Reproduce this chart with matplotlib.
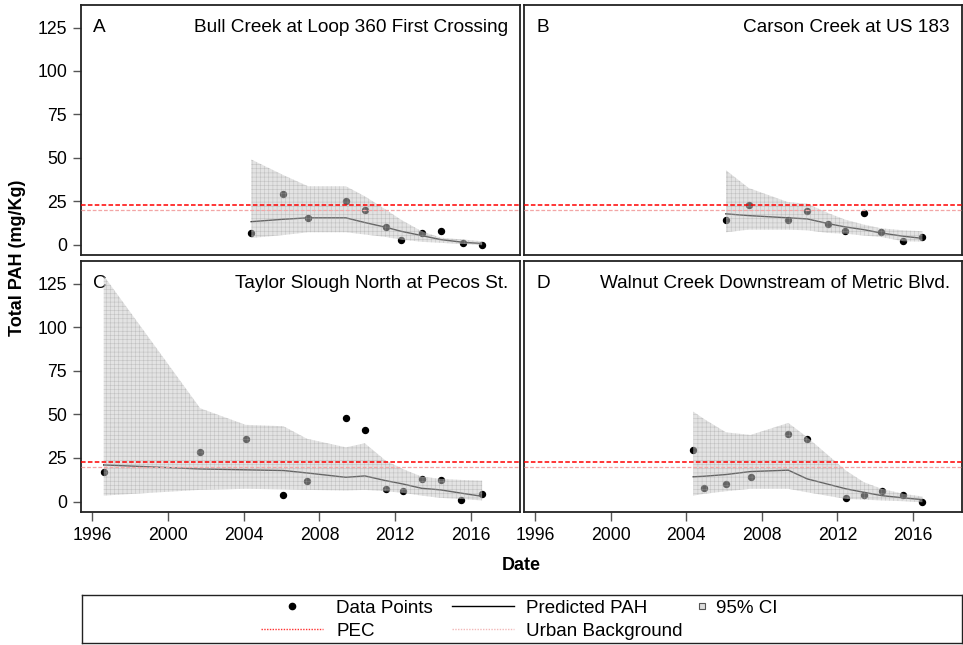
import matplotlib
matplotlib.use("Agg")
import matplotlib.pyplot as plt
from matplotlib.lines import Line2D
from matplotlib.transforms import offset_copy

plt.rcParams['font.family'] = ['Liberation Sans', 'DejaVu Sans']
plt.rcParams['hatch.linewidth'] = 0.4

# ---------------- data ----------------
letters = ["A", "B", "C", "D"]
titles = ["Bull Creek at Loop 360 First Crossing",
          "Carson Creek at US 183",
          "Taylor Slough North at Pecos St.",
          "Walnut Creek Downstream of Metric Blvd."]

a_years = [2004.4, 2006.1, 2007.4, 2009.4, 2010.4, 2011.5, 2012.3, 2013.4, 2014.4, 2015.6, 2016.6]
a_obs   = [6.5, 29.2, 15.4, 25.2, 20.0, 10.0, 2.7, 6.5, 8.0, 1.0, 0.0]
a_pred  = [13.2, 14.6, 15.4, 15.4, 12.7, 10.0, 7.7, 5.2, 2.9, 1.3, 0.6]
a_upper = [49.0, 40.0, 33.6, 33.6, 27.8, 20.2, 14.4, 7.7, 4.0, 2.9, 1.9]
a_lower = [3.8, 5.5, 7.1, 7.1, 5.8, 4.4, 2.9, 1.6, 1.0, 0.4, -0.4]

b_years = [2006.1, 2007.3, 2009.4, 2010.4, 2011.5, 2012.4, 2013.4, 2014.3, 2015.5, 2016.5]
b_obs   = [14.0, 23.0, 14.0, 19.2, 11.7, 8.1, 18.4, 7.1, 1.9, 4.2]
b_pred  = [17.7, 16.7, 15.4, 14.8, 12.1, 10.2, 8.6, 6.7, 4.8, 3.6]
b_upper = [42.8, 32.6, 24.4, 23.6, 18.2, 14.4, 11.5, 9.4, 8.2, 7.7]
b_lower = [7.1, 8.6, 8.6, 8.2, 6.7, 6.3, 5.2, 4.4, 1.9, 1.7]

c_years = [1996.6, 2001.7, 2004.1, 2006.1, 2007.35, 2009.4, 2010.4, 2011.5, 2012.4, 2013.4, 2014.4, 2015.5, 2016.6]
c_obs   = [17.2, 28.3, 36.0, 3.6, 11.9, 47.8, 41.1, 7.3, 6.1, 13.2, 12.6, 0.6, 4.4]
c_pred  = [21.0, 18.7, 18.2, 17.8, 16.4, 13.9, 14.7, 12.0, 10.1, 7.6, 6.7, 4.8, 3.0]
c_upper = [129.6, 53.5, 44.0, 43.2, 36.0, 31.1, 33.4, 23.5, 18.7, 14.3, 13.0, 12.4, 12.0]
c_lower = [3.4, 6.7, 7.3, 7.0, 6.7, 6.3, 6.7, 5.9, 5.0, 3.4, 2.1, 1.5, 0.6]

d_years = [2004.37, 2004.93, 2006.1, 2007.4, 2009.4, 2010.4, 2012.45, 2013.4, 2014.35, 2015.5, 2016.5]
d_obs   = [29.8, 8.0, 10.3, 14.0, 38.8, 35.7, 2.1, 3.6, 5.9, 3.8, 0.0]
d_pred  = [14.2, 14.5, 15.5, 17.2, 18.0, 13.0, 7.3, 5.3, 3.4, 2.1, 1.1]
d_upper = [51.6, 47.4, 39.7, 38.2, 45.1, 36.9, 17.8, 11.1, 7.3, 4.4, 2.9]
d_lower = [3.4, 4.4, 5.9, 7.3, 7.3, 5.3, 1.5, 1.1, 0.6, 0.2, -0.4]

pec_value = 22.8
urban_value = 20.0

y_ticks = [0, 25, 50, 75, 100, 125]
x_ticks = [1996, 2000, 2004, 2008, 2012, 2016]

series = [
    (a_years, a_obs, a_pred, a_upper, a_lower),
    (b_years, b_obs, b_pred, b_upper, b_lower),
    (c_years, c_obs, c_pred, c_upper, c_lower),
    (d_years, d_obs, d_pred, d_upper, d_lower),
]

# ---------------- figure ----------------
W, H = 963, 645
fig = plt.figure(figsize=(W / 100, H / 100), dpi=100)

def px_rect(l, t, r, b):
    return [l / W, 1 - b / H, (r - l) / W, (b - t) / H]

rects = [px_rect(81, 5, 520, 255), px_rect(524, 5, 962, 255),
         px_rect(81, 261, 520, 512), px_rect(524, 261, 962, 512)]

TXT = 13.7
for i, (rect, s) in enumerate(zip(rects, series)):
    yrs, obs, pred, up, lo = s
    ax = fig.add_axes(rect)
    ax.plot(yrs, obs, 'o', color='black', markersize=4.3, zorder=2)
    ax.plot(yrs, pred, '-', color='black', lw=1.0, zorder=3)
    ax.fill_between(yrs, lo, up, facecolor='#c8c8c8', edgecolor='#a0a0a0',
                    hatch='++++', linewidth=0, alpha=0.5, zorder=4)
    ax.axhline(pec_value, color='#ff0000', ls=(0, (3, 1.5)), lw=1.1, zorder=5)
    ax.axhline(urban_value, color='#f2a6a6', ls=(0, (3, 1.5)), lw=0.9, zorder=5)
    ax.set_xlim(1995.4, 2018.6)
    ax.set_ylim(-6, 138)
    ax.set_yticks(y_ticks)
    ax.set_xticks(x_ticks)
    for sp in ax.spines.values():
        sp.set_color('#222222')
        sp.set_linewidth(1.3)
    ax.tick_params(axis='y', labelsize=12.7, length=5.5, width=1.0,
                   color='#555555', direction='out', pad=4.5)
    ax.tick_params(axis='x', labelsize=12.7, length=6.5, width=1.0,
                   color='#555555', direction='out', pad=4)
    if i in (0, 1):
        ax.tick_params(axis='x', bottom=False, labelbottom=False)
    else:
        ax.set_xticklabels([str(t) for t in x_ticks])
    if i in (1, 3):
        ax.tick_params(axis='y', left=False, labelleft=False)
    tl = offset_copy(ax.transAxes, fig=fig, x=12 * 0.72, y=-27 * 0.72, units='points')
    ax.text(0, 1, letters[i], transform=tl, ha='left', va='baseline', fontsize=TXT)
    tr = offset_copy(ax.transAxes, fig=fig, x=-12 * 0.72, y=-27 * 0.72, units='points')
    ax.text(1, 1, titles[i], transform=tr, ha='right', va='baseline', fontsize=TXT)

fig.text(18 / W, 1 - 258 / H, "Total PAH (mg/Kg)", rotation=90, ha='center', va='center',
         fontsize=13, fontweight='bold')
fig.text(521 / W, 1 - 566 / H, "Date", ha='center', va='center', fontsize=13, fontweight='bold')

# legend box
lax = fig.add_axes(px_rect(82, 595, 962, 643))
lax.set_xticks([])
lax.set_yticks([])
for sp in lax.spines.values():
    sp.set_color('#222222')
    sp.set_linewidth(1.0)
lax.patch.set_alpha(0)

LF = 13.5
common = dict(frameon=False, fontsize=LF, loc='center left', borderpad=0,
              borderaxespad=0, bbox_transform=fig.transFigure, labelspacing=0.3)

h1 = [Line2D([], [], marker='o', color='black', ls='none', markersize=4.5),
      Line2D([], [], color='#ff3030', ls=(0, (1, 1)), lw=1.0)]
leg1 = lax.legend(h1, ["Data Points", "PEC"], bbox_to_anchor=(261 / W, 1 - 619.75 / H),
                  handlelength=3.3, handletextpad=0.72, **common)
lax.add_artist(leg1)

h2 = [Line2D([], [], color='black', lw=1.0),
      Line2D([], [], color='#f2b8b8', ls=(0, (1, 1)), lw=1.0)]
leg2 = lax.legend(h2, ["Predicted PAH", "Urban Background"], bbox_to_anchor=(451.7 / W, 1 - 619.75 / H),
                  handlelength=3.3, handletextpad=0.68, **common)
lax.add_artist(leg2)

h3 = [Line2D([], [], marker='s', color='#dddddd', markeredgecolor='#555555',
             markeredgewidth=0.8, ls='none', markersize=5)]
leg3 = lax.legend(h3, ["95% CI"], bbox_to_anchor=(693 / W, 1 - 608 / H),
                  handlelength=1.0, handletextpad=0.2, **common)

fig.savefig("out.png", dpi=100)
